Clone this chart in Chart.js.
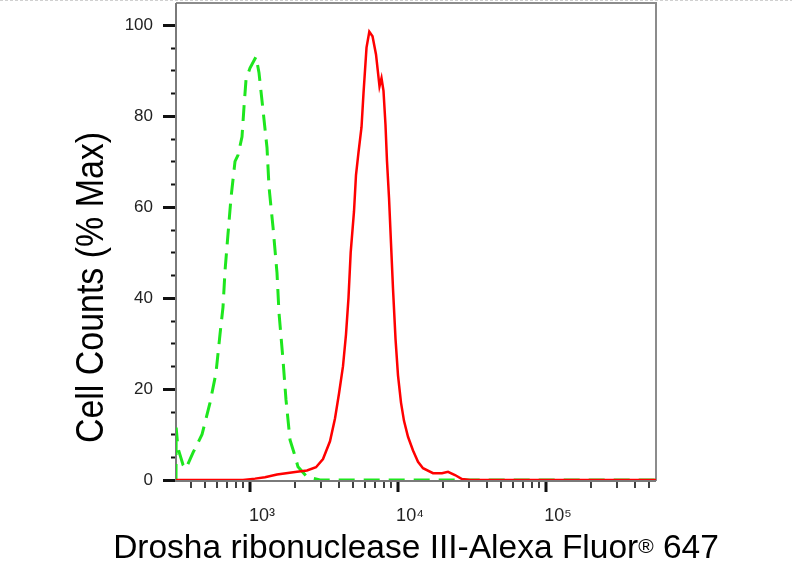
<!DOCTYPE html>
<html><head><meta charset="utf-8">
<script src="https://cdn.jsdelivr.net/npm/chart.js@4.4.1/dist/chart.umd.min.js"></script>
<style>html,body{margin:0;padding:0;background:#fff;overflow:hidden}#wrap{width:792px;height:574px}</style>
</head><body><div id="wrap"><canvas id="c" width="792" height="574"></canvas></div>
<script>
// ---- axis ranges and ticks ----
const xMin = 316.2, xMax = 553700;
const yMin = 0, yMax = 104.8;
const decadeTicks = [1000, 10000, 100000];
const decadeLabels = ['10³', '10⁴', '10⁵'];
const minorXTicks = [400, 500, 600, 700, 800, 900,
  2000, 3000, 4000, 5000, 6000, 7000, 8000, 9000,
  20000, 30000, 40000, 50000, 60000, 70000, 80000, 90000,
  200000, 300000, 400000, 500000];
const yTicks = [0, 5, 10, 15, 20, 25, 30, 35, 40, 45, 50, 55, 60, 65, 70, 75, 80, 85, 90, 95, 100];
const yLabelTicks = [0, 20, 40, 60, 80, 100];

// ---- series: isotype control (green dashed) ----
const isoX = [316.2, 317, 326, 353, 369, 412, 474, 537, 589, 627, 657, 678, 710, 744, 792, 830, 883, 911, 940, 1000,
  1098, 1150, 1224, 1303, 1344, 1430, 1522, 1570, 1671, 1751, 1864, 1983, 2110, 2427, 2972, 553700];
const isoY = [0, 11.5, 7, 3.3, 2.5, 6, 10, 17, 23.5, 32, 38, 46, 54, 62, 70, 71.4, 75.4, 82, 88, 90.5,
  93, 89.5, 81.3, 73, 64.4, 55.6, 45.5, 36.7, 26.4, 17.6, 8.8, 6, 2.9, 0.7, 0, 0];

// ---- series: Drosha stained (red solid) ----
const droshaX = [316.2, 897, 1081, 1263, 1522, 2078, 2427, 2792, 3114, 3471, 3752, 3994, 4250, 4453, 4629, 4790,
  5043, 5202, 5409, 5668, 5847, 6127, 6400, 6727, 7102, 7499, 7736, 7980, 8232, 8428, 8696, 8969, 9253, 9620,
  10000, 10478, 10978, 11684, 12630, 13650, 14757, 17240, 19830, 21770, 24270, 27060, 30660, 553700];
const droshaY = [0, 0, 0.3, 0.6, 1.2, 1.8, 2.1, 2.8, 4.6, 8.5, 13.5, 19, 25, 32, 40, 50,
  59, 67, 72, 77.5, 85, 95, 98.5, 97.5, 93.5, 86.5, 88.3, 85.5, 78, 70, 62, 52, 42, 31,
  23, 17, 13, 9.5, 6.5, 4, 2.6, 1.5, 1.5, 1.8, 1.1, 0.2, 0, 0];

const xTitleMain = 'Drosha ribonuclease III-Alexa Fluor';
const xTitleSup = '®';
const xTitleEnd = ' 647';
const yTitle = 'Cell Counts (% Max)';

const FONT = "'Liberation Sans', Arial, Helvetica, sans-serif";

const framePlugin = {
  id: 'frame',
  beforeDatasetsDraw(chart) {
    const {ctx, chartArea: {left, right, top, bottom}, scales: {x, y}} = chart;
    ctx.save();
    // faint dashed image border at the very top
    ctx.strokeStyle = '#d0d0d0'; ctx.lineWidth = 1; ctx.setLineDash([3, 2]);
    ctx.beginPath(); ctx.moveTo(0, 0.5); ctx.lineTo(792, 0.5); ctx.stroke();
    ctx.setLineDash([]);
    // plot frame
    ctx.strokeStyle = '#8c8c8c'; ctx.lineWidth = 2;
    ctx.beginPath();
    ctx.moveTo(left, top); ctx.lineTo(right, top); ctx.lineTo(right, bottom + 1);
    ctx.stroke();
    ctx.strokeStyle = '#7a7a7a';
    ctx.beginPath();
    ctx.moveTo(left, top); ctx.lineTo(left, bottom + 1); ctx.lineTo(right, bottom + 1);
    ctx.stroke();
    // y tick marks
    ctx.strokeStyle = '#111';
    y.ticks.forEach(t => {
      const py = Math.round(y.getPixelForValue(t.value)) + 0.5;
      const major = yLabelTicks.includes(t.value);
      ctx.lineWidth = major ? 3 : 2;
      ctx.beginPath(); ctx.moveTo(left - (major ? 13 : 5), py); ctx.lineTo(left - 1, py); ctx.stroke();
    });
    // x tick marks
    x.ticks.forEach(t => {
      const px = Math.round(x.getPixelForValue(t.value));
      const major = decadeTicks.includes(t.value);
      ctx.lineWidth = major ? 3 : 1.6;
      ctx.beginPath(); ctx.moveTo(px, bottom + 2); ctx.lineTo(px, bottom + (major ? 12 : 8)); ctx.stroke();
    });
    ctx.restore();
  },
  afterDraw(chart) {
    const {ctx, chartArea: {left, right}} = chart;
    ctx.save();
    ctx.fillStyle = '#000';
    // x title with superscript registered mark
    ctx.textBaseline = 'alphabetic';
    ctx.textAlign = 'left';
    const big = '33.5px ' + FONT, small = '21px ' + FONT;
    ctx.font = big; const w1 = ctx.measureText(xTitleMain).width;
    ctx.font = small; const w2 = ctx.measureText(xTitleSup).width;
    ctx.font = big; const w3 = ctx.measureText(xTitleEnd).width;
    const total = w1 + w2 + w3;
    let sx = (left + right) / 2 - total / 2;
    ctx.font = big; ctx.fillText(xTitleMain, sx, 558);
    ctx.font = small; ctx.fillText(xTitleSup, sx + w1, 553);
    ctx.font = big; ctx.fillText(xTitleEnd, sx + w1 + w2, 558);
    // y title, rotated
    ctx.translate(103, 287.5);
    ctx.rotate(-Math.PI / 2);
    ctx.scale(0.87, 1);
    ctx.font = '39px ' + FONT;
    ctx.textAlign = 'center';
    ctx.fillText(yTitle, 0, 0);
    ctx.restore();
  }
};

new Chart(document.getElementById('c'), {
  type: 'line',
  data: {
    datasets: [
      {
        label: 'Drosha ribonuclease III',
        data: droshaX.map((v, i) => ({x: v, y: droshaY[i]})),
        borderColor: '#ff0000', borderWidth: 2.5, pointRadius: 0, tension: 0, fill: false
      },
      {
        label: 'Isotype control',
        data: isoX.map((v, i) => ({x: v, y: isoY[i]})),
        borderColor: '#1ee61e', borderWidth: 3, borderDash: [16, 9], pointRadius: 0, tension: 0, fill: false
      }
    ]
  },
  options: {
    responsive: false, animation: false, devicePixelRatio: 1,
    layout: {padding: {left: 0, right: 136, top: 3, bottom: 0}},
    plugins: {legend: {display: false}, tooltip: {enabled: false}},
    scales: {
      x: {
        type: 'logarithmic', min: xMin, max: xMax, position: 'bottom',
        afterBuildTicks: s => {
          s.ticks = decadeTicks.concat(minorXTicks).sort((a, b) => a - b)
            .map(v => ({value: v, major: decadeTicks.includes(v)}));
        },
        afterFit: s => { s.height = 94; s.paddingLeft = 0; s.paddingRight = 0; },
        grid: {drawOnChartArea: false, drawTicks: true, tickLength: 10, tickColor: 'rgba(0,0,0,0)'},
        border: {display: false},
        ticks: {
          autoSkip: false, maxRotation: 0, minRotation: 0, padding: 15, labelOffset: 12,
          font: {family: FONT, size: 18}, color: '#222',
          callback: v => { const i = decadeTicks.indexOf(v); return i >= 0 ? decadeLabels[i] : ''; }
        }
      },
      y: {
        min: yMin, max: yMax,
        afterBuildTicks: s => { s.ticks = yTicks.map(v => ({value: v})); },
        afterFit: s => { s.width = 176; s.paddingTop = 0; s.paddingBottom = 0; },
        grid: {drawOnChartArea: false, drawTicks: true, tickLength: 13, tickColor: 'rgba(0,0,0,0)'},
        border: {display: false},
        ticks: {
          padding: 10, font: {family: FONT, size: 17}, color: '#222',
          callback: v => yLabelTicks.includes(v) ? String(v) : ''
        }
      }
    }
  },
  plugins: [framePlugin]
});
</script>
</body></html>
